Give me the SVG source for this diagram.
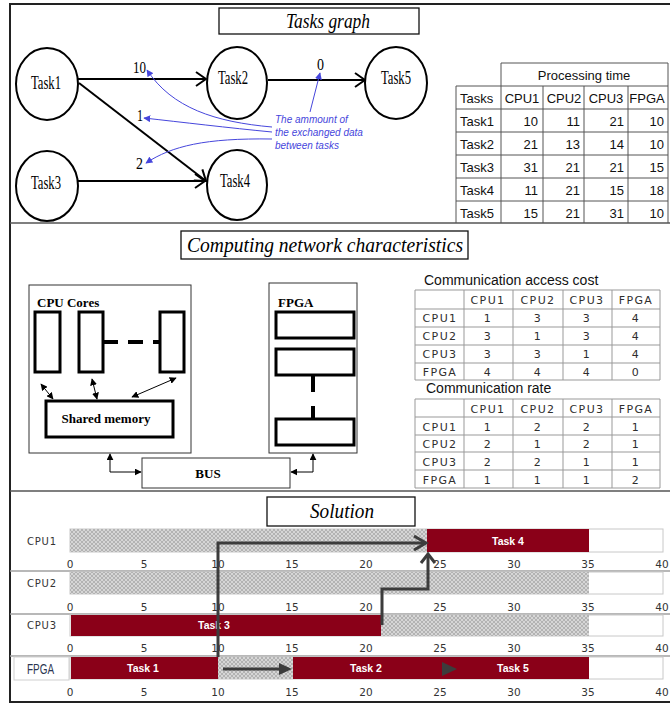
<svg xmlns="http://www.w3.org/2000/svg" width="670" height="704" viewBox="0 0 670 704">
<style>
.frame{stroke:#222;stroke-width:2;fill:none}
.sep{stroke:#555;stroke-width:1.5}
.title{font-family:"Liberation Serif",serif;font-style:italic;font-size:21px;text-anchor:middle}
.tbox{fill:#fff;stroke:#111;stroke-width:1.3}
.node ellipse{fill:#fff;stroke:#000;stroke-width:2}
.ntxt{font-family:"Liberation Serif",serif;font-size:19px}
.edge{stroke:#000;stroke-width:2;fill:none;marker-end:url(#chev)}
.elab{font-family:"Liberation Serif",serif;font-size:17px}
.ann{font-family:"Liberation Sans",sans-serif;font-style:italic;font-size:10px;fill:#4646dc}
.bl{stroke:#4646dc;stroke-width:1;fill:none;marker-end:url(#blue)}
.pt text{font-family:"Liberation Sans",sans-serif;font-size:13px;fill:#111}
.pt line{stroke:#555;stroke-width:1}
.ct text{font-family:"DejaVu Sans",sans-serif;font-size:11px;letter-spacing:1.4px;fill:#2e2e2e;text-anchor:middle}
.ct line{stroke:#999;stroke-width:1}
.cap{font-family:"Liberation Sans",sans-serif;font-size:14px;fill:#111}
.hw{font-family:"Liberation Serif",serif;font-weight:bold;font-size:13px}
.box{fill:#fff;stroke:#333;stroke-width:1}
.thick{fill:#fff;stroke:#000;stroke-width:3}
.dbl{stroke:#000;stroke-width:1;fill:none;marker-start:url(#tri);marker-end:url(#tri)}
.ax{font-family:"DejaVu Sans",sans-serif;font-size:10.5px;fill:#333;text-anchor:middle}
.rl{font-family:"DejaVu Sans",sans-serif;font-size:10px;letter-spacing:0.8px;fill:#333}
.bar{fill:#8a0018}
.hat{fill:url(#hatch)}
.btxt{font-family:"Liberation Sans",sans-serif;font-weight:bold;font-size:10.5px;fill:#fff;text-anchor:middle}
.band{fill:none;stroke:#c8c8c8;stroke-width:1}
.rsep{stroke:#a0a0a0;stroke-width:1.5}
.garr{stroke:#3c3c3c;stroke-width:3;fill:none;stroke-linejoin:miter}
</style>
<defs>
<marker id="chev" viewBox="0 0 12 16" refX="11" refY="8" markerWidth="12" markerHeight="16" markerUnits="userSpaceOnUse" orient="auto"><path d="M1,1 L11,8 L1,15" fill="none" stroke="#000" stroke-width="2"/></marker>
<marker id="blue" viewBox="0 0 10 10" refX="9" refY="5" markerWidth="7" markerHeight="7" markerUnits="userSpaceOnUse" orient="auto"><path d="M0,0 L10,5 L0,10 z" fill="#4646dc"/></marker>
<marker id="tri" viewBox="0 0 10 10" refX="9" refY="5" markerWidth="7" markerHeight="7" markerUnits="userSpaceOnUse" orient="auto-start-reverse"><path d="M0,0 L10,5 L0,10 z" fill="#000"/></marker>
<pattern id="hatch" width="4" height="4" patternUnits="userSpaceOnUse"><rect width="4" height="4" fill="#d6d6d6"/><path d="M0,4 L4,0 M0,0 L4,4" stroke="#a4a4a4" stroke-width="0.7"/></pattern>
</defs>
<rect width="670" height="704" fill="#fff"/>

<g id="frame">
<line class="frame" x1="10" y1="4" x2="670" y2="4"/>
<line class="frame" x1="10" y1="3" x2="10" y2="703"/>
<line class="frame" x1="10" y1="702" x2="670" y2="702"/>
<line class="sep" x1="10" y1="223" x2="670" y2="223"/>
<line class="sep" x1="10" y1="491" x2="670" y2="491"/>
</g>

<!-- ===== Tasks graph ===== -->
<g id="title-tasks"><rect class="tbox" x="219" y="8" width="200" height="26"/><text class="title" x="328" y="28" textLength="84" lengthAdjust="spacingAndGlyphs">Tasks graph</text></g>

<g id="connectors">
<line class="edge" x1="78" y1="79" x2="206" y2="79"/>
<line class="edge" x1="268" y1="80" x2="365" y2="80"/>
<line class="edge" x1="79" y1="83" x2="206" y2="181"/>
<line class="edge" x1="78" y1="181" x2="205" y2="181"/>
<path class="bl" d="M272,127 C215,122 172,108 147,70"/>
<path class="bl" d="M310,112 L320,73"/>
<path class="bl" d="M272,132 C230,128 180,122 144,118"/>
<path class="bl" d="M272,139 C205,138 172,146 146,163"/>
</g>

<g id="task1" class="node"><ellipse cx="47" cy="84" rx="31" ry="36"/><text class="ntxt" x="31" y="89" textLength="30" lengthAdjust="spacingAndGlyphs">Task1</text></g>
<g id="task2" class="node"><ellipse cx="237" cy="83" rx="30" ry="36"/><text class="ntxt" x="218" y="84" textLength="30" lengthAdjust="spacingAndGlyphs">Task2</text></g>
<g id="task5" class="node"><ellipse cx="396" cy="83" rx="31" ry="36"/><text class="ntxt" x="381" y="84" textLength="30" lengthAdjust="spacingAndGlyphs">Task5</text></g>
<g id="task3" class="node"><ellipse cx="47" cy="186" rx="31" ry="35"/><text class="ntxt" x="31" y="189" textLength="30" lengthAdjust="spacingAndGlyphs">Task3</text></g>
<g id="task4" class="node"><ellipse cx="237" cy="185" rx="30" ry="35"/><text class="ntxt" x="220" y="187" textLength="30" lengthAdjust="spacingAndGlyphs">Task4</text></g>

<g id="edge-labels">
<text class="elab" x="133" y="73" textLength="13" lengthAdjust="spacingAndGlyphs">10</text>
<text class="elab" x="317" y="70" textLength="7" lengthAdjust="spacingAndGlyphs">0</text>
<text class="elab" x="137" y="121" textLength="6" lengthAdjust="spacingAndGlyphs">1</text>
<text class="elab" x="136" y="169" textLength="7" lengthAdjust="spacingAndGlyphs">2</text>
</g>

<g id="annotation">
<text class="ann" x="275" y="123">The ammount of</text>
<text class="ann" x="275" y="136">the exchanged data</text>
<text class="ann" x="275" y="149">between tasks</text>
</g>

<g id="processing-table" class="pt">
<line x1="501" y1="63" x2="668" y2="63"/>
<line x1="456" y1="86" x2="668" y2="86"/>
<line x1="456" y1="109" x2="668" y2="109"/>
<line x1="456" y1="132" x2="668" y2="132"/>
<line x1="456" y1="155" x2="668" y2="155"/>
<line x1="456" y1="178" x2="668" y2="178"/>
<line x1="456" y1="201" x2="668" y2="201"/>
<line x1="456" y1="86" x2="456" y2="223"/>
<line x1="501" y1="63" x2="501" y2="223"/>
<line x1="543" y1="86" x2="543" y2="223"/>
<line x1="584" y1="86" x2="584" y2="223"/>
<line x1="628" y1="86" x2="628" y2="223"/>
<line x1="668" y1="63" x2="668" y2="223"/>
<text x="584" y="80" text-anchor="middle">Processing time</text>
<text x="460" y="103">Tasks</text>
<text x="522" y="103" text-anchor="middle">CPU1</text>
<text x="564" y="103" text-anchor="middle">CPU2</text>
<text x="606" y="103" text-anchor="middle">CPU3</text>
<text x="647" y="103" text-anchor="middle">FPGA</text>
<text x="460" y="126">Task1</text><text x="538" y="126" text-anchor="end">10</text><text x="580" y="126" text-anchor="end">11</text><text x="624" y="126" text-anchor="end">21</text><text x="664" y="126" text-anchor="end">10</text>
<text x="460" y="149">Task2</text><text x="538" y="149" text-anchor="end">21</text><text x="580" y="149" text-anchor="end">13</text><text x="624" y="149" text-anchor="end">14</text><text x="664" y="149" text-anchor="end">10</text>
<text x="460" y="172">Task3</text><text x="538" y="172" text-anchor="end">31</text><text x="580" y="172" text-anchor="end">21</text><text x="624" y="172" text-anchor="end">21</text><text x="664" y="172" text-anchor="end">15</text>
<text x="460" y="195">Task4</text><text x="538" y="195" text-anchor="end">11</text><text x="580" y="195" text-anchor="end">21</text><text x="624" y="195" text-anchor="end">15</text><text x="664" y="195" text-anchor="end">18</text>
<text x="460" y="218">Task5</text><text x="538" y="218" text-anchor="end">15</text><text x="580" y="218" text-anchor="end">21</text><text x="624" y="218" text-anchor="end">31</text><text x="664" y="218" text-anchor="end">10</text>
</g>

<!-- ===== Computing network ===== -->
<g id="title-network"><rect class="tbox" x="181" y="231" width="287" height="28"/><text class="title" x="325" y="252" textLength="276" lengthAdjust="spacingAndGlyphs">Computing network characteristics</text></g>

<g id="cpu-cores">
<rect class="box" x="29" y="285" width="162" height="168"/>
<text class="hw" x="37" y="307">CPU Cores</text>
<rect class="thick" x="35" y="312" width="25" height="60"/>
<rect class="thick" x="79" y="312" width="24" height="60"/>
<rect class="thick" x="160" y="312" width="24" height="60"/>
<line x1="103" y1="342" x2="160" y2="342" stroke="#000" stroke-width="4" stroke-dasharray="15,10"/>
</g>
<g id="shared-memory"><rect class="thick" x="46" y="401" width="127" height="36"/><text class="hw" x="106" y="423" font-size="12" text-anchor="middle">Shared memory</text></g>

<g id="fpga">
<rect class="box" x="269" y="283" width="88" height="170"/>
<text class="hw" x="278" y="307">FPGA</text>
<rect class="thick" x="276" y="312" width="78" height="26"/>
<rect class="thick" x="276" y="349" width="78" height="26"/>
<rect class="thick" x="276" y="419" width="78" height="26"/>
<line x1="313" y1="375" x2="313" y2="419" stroke="#000" stroke-width="4" stroke-dasharray="17,14"/>
</g>

<g id="bus"><rect class="box" x="142" y="458" width="148" height="30"/><text class="hw" x="208" y="478" text-anchor="middle">BUS</text></g>

<g id="hw-connectors">
<line class="dbl" x1="41" y1="384" x2="53" y2="399"/>
<line class="dbl" x1="92" y1="379" x2="97" y2="399"/>
<line class="dbl" x1="132" y1="397" x2="176" y2="378"/>
<path class="dbl" d="M110,454 V472 H141"/>
<path class="dbl" d="M313,454 V472 H291"/>
</g>

<text class="cap" x="424" y="285">Communication access cost</text>
<g id="access-cost" class="ct">
<line x1="415" y1="290" x2="660" y2="290"/>
<line x1="415" y1="309" x2="660" y2="309"/>
<line x1="415" y1="327" x2="660" y2="327"/>
<line x1="415" y1="345" x2="660" y2="345"/>
<line x1="415" y1="363" x2="660" y2="363"/>
<line x1="415" y1="380" x2="660" y2="380"/>
<line x1="415" y1="290" x2="415" y2="380"/>
<line x1="464" y1="290" x2="464" y2="380"/>
<line x1="513" y1="290" x2="513" y2="380"/>
<line x1="563" y1="290" x2="563" y2="380"/>
<line x1="612" y1="290" x2="612" y2="380"/>
<line x1="660" y1="290" x2="660" y2="380"/>
<text x="488" y="304">CPU1</text><text x="538" y="304">CPU2</text><text x="587" y="304">CPU3</text><text x="636" y="304">FPGA</text>
<text x="440" y="322">CPU1</text><text x="488" y="322">1</text><text x="538" y="322">3</text><text x="587" y="322">3</text><text x="636" y="322">4</text>
<text x="440" y="340">CPU2</text><text x="488" y="340">3</text><text x="538" y="340">1</text><text x="587" y="340">3</text><text x="636" y="340">4</text>
<text x="440" y="358">CPU3</text><text x="488" y="358">3</text><text x="538" y="358">3</text><text x="587" y="358">1</text><text x="636" y="358">4</text>
<text x="440" y="376">FPGA</text><text x="488" y="376">4</text><text x="538" y="376">4</text><text x="587" y="376">4</text><text x="636" y="376">0</text>
</g>

<text class="cap" x="426" y="393">Communication rate</text>
<g id="comm-rate" class="ct">
<line x1="415" y1="399" x2="660" y2="399"/>
<line x1="415" y1="417" x2="660" y2="417"/>
<line x1="415" y1="435" x2="660" y2="435"/>
<line x1="415" y1="452" x2="660" y2="452"/>
<line x1="415" y1="470" x2="660" y2="470"/>
<line x1="415" y1="488" x2="660" y2="488"/>
<line x1="415" y1="399" x2="415" y2="488"/>
<line x1="464" y1="399" x2="464" y2="488"/>
<line x1="513" y1="399" x2="513" y2="488"/>
<line x1="563" y1="399" x2="563" y2="488"/>
<line x1="612" y1="399" x2="612" y2="488"/>
<line x1="660" y1="399" x2="660" y2="488"/>
<text x="488" y="413">CPU1</text><text x="538" y="413">CPU2</text><text x="587" y="413">CPU3</text><text x="636" y="413">FPGA</text>
<text x="440" y="431">CPU1</text><text x="488" y="431">1</text><text x="538" y="431">2</text><text x="587" y="431">2</text><text x="636" y="431">1</text>
<text x="440" y="448">CPU2</text><text x="488" y="448">2</text><text x="538" y="448">1</text><text x="587" y="448">2</text><text x="636" y="448">1</text>
<text x="440" y="466">CPU3</text><text x="488" y="466">2</text><text x="538" y="466">2</text><text x="587" y="466">1</text><text x="636" y="466">1</text>
<text x="440" y="484">FPGA</text><text x="488" y="484">1</text><text x="538" y="484">1</text><text x="587" y="484">1</text><text x="636" y="484">2</text>
</g>

<!-- ===== Solution ===== -->
<g id="title-solution"><rect class="tbox" x="267" y="497" width="148" height="29"/><text class="title" x="342" y="518" textLength="64" lengthAdjust="spacingAndGlyphs">Solution</text></g>

<g id="row-separators">
<line class="rsep" x1="10" y1="571" x2="670" y2="571"/>
<line class="rsep" x1="10" y1="614" x2="670" y2="614"/>
<line class="rsep" x1="10" y1="656" x2="670" y2="656"/>
</g>

<g id="row-cpu1">
<text class="rl" x="27" y="545">CPU1</text>
<rect class="band" x="70" y="529" width="593" height="23"/>
<rect class="hat" x="70" y="529" width="357" height="23"/>
<rect class="bar" x="427" y="529" width="162" height="23"/>
<text class="btxt" x="508" y="545">Task 4</text>
<g class="ax"><text x="70" y="568">0</text><text x="144" y="568">5</text><text x="218" y="568">10</text><text x="292" y="568">15</text><text x="366" y="568">20</text><text x="440" y="568">25</text><text x="514" y="568">30</text><text x="588" y="568">35</text><text x="662" y="568">40</text></g>
</g>

<g id="row-cpu2">
<text class="rl" x="27" y="587">CPU2</text>
<rect class="band" x="70" y="572" width="593" height="22"/>
<rect class="hat" x="70" y="572" width="519" height="22"/>
<g class="ax"><text x="70" y="611">0</text><text x="144" y="611">5</text><text x="218" y="611">10</text><text x="292" y="611">15</text><text x="366" y="611">20</text><text x="440" y="611">25</text><text x="514" y="611">30</text><text x="588" y="611">35</text><text x="662" y="611">40</text></g>
</g>

<g id="row-cpu3">
<text class="rl" x="27" y="629">CPU3</text>
<rect class="band" x="70" y="615" width="593" height="21"/>
<rect class="bar" x="71" y="615" width="310" height="21"/>
<rect class="hat" x="381" y="615" width="208" height="21"/>
<text class="btxt" x="214" y="629">Task 3</text>
<g class="ax"><text x="70" y="652">0</text><text x="144" y="652">5</text><text x="218" y="652">10</text><text x="292" y="652">15</text><text x="366" y="652">20</text><text x="440" y="652">25</text><text x="514" y="652">30</text><text x="588" y="652">35</text><text x="662" y="652">40</text></g>
</g>

<g id="row-fpga">
<rect x="14" y="657" width="55" height="23" fill="#fff" stroke="#cfcfcf"/>
<text x="27" y="674" font-family="Liberation Sans, sans-serif" font-size="14" fill="#2a3550" textLength="27" lengthAdjust="spacingAndGlyphs">FPGA</text>
<rect class="band" x="70" y="657" width="593" height="22"/>
<rect class="bar" x="71" y="657" width="147" height="22"/>
<rect class="hat" x="218" y="657" width="75" height="22"/>
<rect class="bar" x="293" y="657" width="148" height="22"/>
<rect class="bar" x="441" y="657" width="148" height="22"/>
<text class="btxt" x="143" y="672">Task 1</text>
<text class="btxt" x="366" y="672">Task 2</text>
<text class="btxt" x="513" y="672">Task 5</text>
<g class="ax"><text x="70" y="696">0</text><text x="144" y="696">5</text><text x="218" y="696">10</text><text x="292" y="696">15</text><text x="366" y="696">20</text><text x="440" y="696">25</text><text x="514" y="696">30</text><text x="588" y="696">35</text><text x="662" y="696">40</text></g>
</g>

<g id="gantt-connectors">
<path class="garr" d="M218,657 V543 H425"/>
<polyline class="garr" points="414,536 426,543 414,550"/>
<line class="garr" x1="223" y1="669" x2="282" y2="669"/>
<polygon points="279,663 292,669 279,675" fill="#3c3c3c"/>
<path class="garr" d="M382,625 V589 H428 V555"/>
<polyline class="garr" points="421,563 428,554 435,563"/>
<polygon points="442,662 457,669 442,676" fill="#3c3c3c"/>
</g>
</svg>
